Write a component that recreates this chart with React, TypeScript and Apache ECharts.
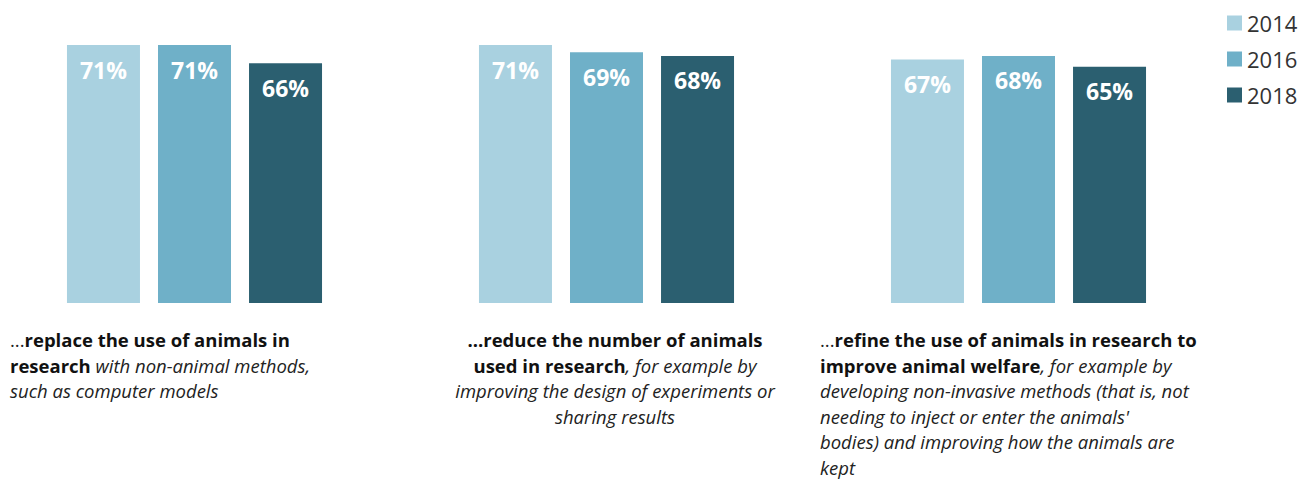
import React, { useEffect, useRef } from "react";
import * as echarts from "echarts";

const categories = ["replace", "reduce", "refine"];
const years = ["2014", "2016", "2018"];
const values2014 = [71, 71, 67];
const values2016 = [71, 69, 68];
const values2018 = [66, 68, 65];
const colors = ["#a9d1e0", "#6fb0c8", "#2b5f70"];

const label1 = "...{b|replace the use of animals in}\n{b|research} {i|with non-animal methods,}\n{i|such as computer models}";
const label2 = "{b|...reduce the number of animals}\n{b|used in research}{i|, for example by}\n{i|improving the design of experiments or}\n{i|sharing results}";
const label3 = "...{b|refine the use of animals in research to}\n{b|improve animal welfare}{i|, for example by}\n{i|developing non-invasive methods (that is, not}\n{i|needing to inject or enter the animals'}\n{i|bodies) and improving how the animals are}\n{i|kept}";

const FONT = "'Open Sans', 'Noto Sans', sans-serif";
const FS = 18.5;
const LH = 25.5;

export default function App() {
  const ref = useRef<HTMLDivElement>(null);
  useEffect(() => {
    if (!ref.current) return;
    const chart = echarts.init(ref.current, null, { renderer: "svg" });
    const series = [values2014, values2016, values2018].map((vals, i) => ({
      name: years[i],
      type: "bar",
      data: vals,
      barWidth: 73,
      barGap: "24.7%",
      itemStyle: { color: colors[i] },
      label: {
        show: true,
        position: "insideTop",
        distance: 13,
        formatter: "{c}%",
        color: "#fff",
        fontWeight: "bold",
        fontSize: 23,
        fontFamily: FONT,
      },
    }));
    const rich = (align: string) => ({
      b: { fontWeight: "bold", fontSize: FS, fontFamily: FONT, fill: "#111", lineHeight: LH, align },
      i: { fontStyle: "italic", fontSize: FS, fontFamily: FONT, fill: "#222", lineHeight: LH, align },
    });
    chart.setOption({
      animation: false,
      grid: { left: -11.5, width: 1236, top: 45, height: 258, outerBoundsMode: "none", containLabel: false },
      xAxis: {
        type: "category",
        data: categories,
        show: false,
      },
      yAxis: { type: "value", min: 0, max: 71, show: false },
      legend: {
        orient: "vertical",
        left: 1222,
        top: 7,
        itemWidth: 15,
        itemHeight: 15,
        itemGap: 14,
        icon: "rect",
        data: years,
        textStyle: { fontSize: 22, color: "#333", fontFamily: FONT },
      },
      graphic: [
        {
          type: "text",
          left: 10,
          top: 327,
          style: { text: label1, rich: rich("left"), fontSize: FS, fontFamily: FONT, fill: "#222", lineHeight: LH, align: "left" },
        },
        {
          type: "text",
          x: 615,
          y: 327,
          style: { text: label2, rich: rich("center"), fontSize: FS, fontFamily: FONT, fill: "#222", lineHeight: LH, align: "center" },
        },
        {
          type: "text",
          left: 820,
          top: 327,
          style: { text: label3, rich: rich("left"), fontSize: FS, fontFamily: FONT, fill: "#222", lineHeight: LH, align: "left" },
        },
      ],
      series,
    });
    return () => chart.dispose();
  }, []);
  return (
    <div
      ref={ref}
      style={{ position: "absolute", left: 0, top: 0, width: 1314, height: 480, background: "#fff" }}
    />
  );
}
